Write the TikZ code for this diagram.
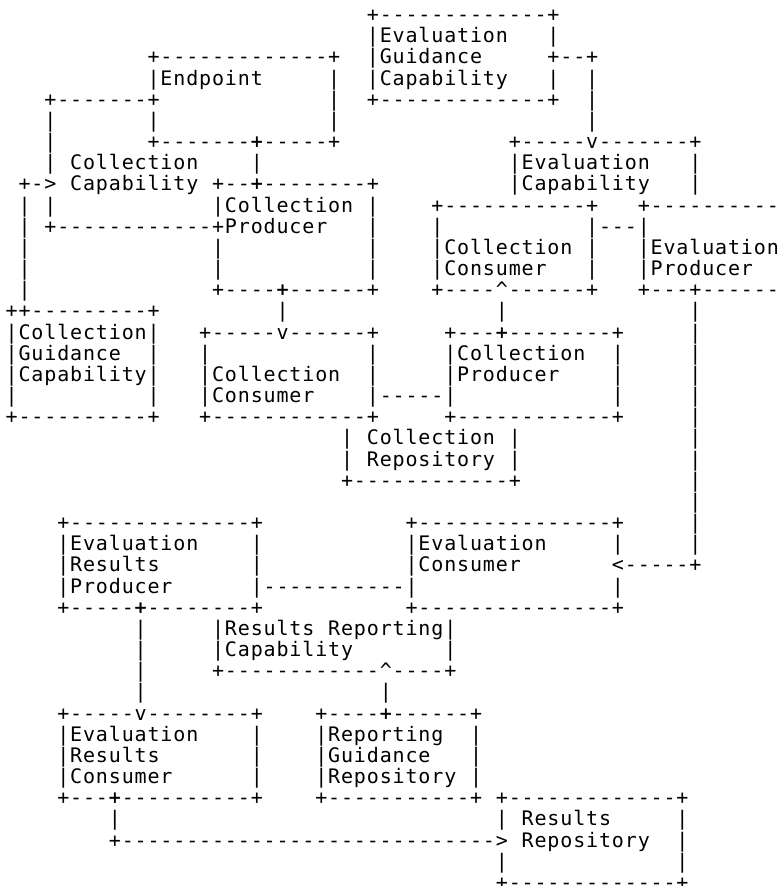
\documentclass[tikz,border=0pt]{standalone}
\usepackage{fontspec}
\newfontfamily\ascfont{DejaVu Sans Mono}
\newlength\cwl \setlength\cwl{12.9pt}
\newcount\dcnt
\def\cells#1{\cellsA#1\relax}
\def\cellsA#1{\ifx#1\relax\else\makebox[\cwl]{#1}\expandafter\cellsA\fi}
\def\dashcells#1{\dcnt=\numexpr#1\relax\loop\ifnum\dcnt>0 \makebox[\cwl]{-}\advance\dcnt by -1 \repeat}
\tikzset{asc/.style={inner sep=0pt,outer sep=0pt,anchor=base west,text=black,
  font=\ascfont\fontsize{20pt}{21pt}\selectfont}}
\newcommand\px[1]{{(5.25+12.9*(#1))*1pt}}
\newcommand\py[1]{{-(15+21.17*(#1)+6.5)*1pt}}
\newcommand\seg[3]{\node[asc] (r#1c#2) at (\px{#2},\py{#1}) {\cells{#3}};}
\newcommand\hb[3]{\node[asc] (h#1c#2) at (\px{#2},\py{#1}) {\makebox[\cwl]{+}\dashcells{#3-#2-1}\makebox[\cwl]{+}};}
\newcommand\dsh[3]{\node[asc] (d#1c#2) at (\px{#2},\py{#1}) {\dashcells{#3-#2+1}};}
\begin{document}
\begin{tikzpicture}
\useasboundingbox (0,0) rectangle (782pt,-886pt);
% L0
\hb{0}{28}{42}
% L1
\seg{1}{28}{|Evaluation~~~|}
% L2
\hb{2}{11}{25}
\seg{2}{28}{|Guidance~~~~~}
\hb{2}{42}{45}
% L3
\seg{3}{11}{|Endpoint~~~~~|}
\seg{3}{28}{|Capability~~~|~~|}
% L4
\hb{4}{3}{11}
\seg{4}{25}{|}
\hb{4}{28}{42}
\seg{4}{45}{|}
% L5
\seg{5}{3}{|} \seg{5}{11}{|} \seg{5}{25}{|} \seg{5}{45}{|}
% L6
\seg{6}{3}{|}
\hb{6}{11}{19} \hb{6}{19}{25}
\seg{6}{39}{+} \dsh{6}{40}{44} \seg{6}{45}{v} \dsh{6}{46}{52} \seg{6}{53}{+}
% L7
\seg{7}{3}{|~Collection~~~~|}
\seg{7}{39}{|Evaluation~~~|}
% L8
\seg{8}{1}{+->~Capability~}
\hb{8}{16}{19} \hb{8}{19}{28}
\seg{8}{39}{|Capability~~~|}
% L9
\seg{9}{1}{|~|}
\seg{9}{16}{|Collection~|}
\hb{9}{33}{45}
\seg{9}{49}{+} \dsh{9}{50}{59}
% L10
\seg{10}{1}{|}
\hb{10}{3}{16}
\seg{10}{17}{Producer~~~|}
\seg{10}{33}{|}
\seg{10}{45}{|---|}
% L11
\seg{11}{1}{|} \seg{11}{16}{|} \seg{11}{28}{|}
\seg{11}{33}{|Collection~|}
\seg{11}{49}{|Evaluation}
% L12
\seg{12}{1}{|} \seg{12}{16}{|} \seg{12}{28}{|}
\seg{12}{33}{|Consumer~~~|}
\seg{12}{49}{|Producer}
% L13
\seg{13}{1}{|}
\hb{13}{16}{21} \hb{13}{21}{28}
\seg{13}{33}{+} \dsh{13}{34}{37} \seg{13}{38}{\textasciicircum} \dsh{13}{39}{44} \seg{13}{45}{+}
\hb{13}{49}{53} \dsh{13}{54}{59}
% L14
\seg{14}{0}{+} \hb{14}{1}{11}
\seg{14}{21}{|} \seg{14}{38}{|} \seg{14}{53}{|}
% L15
\seg{15}{0}{|Collection|}
\seg{15}{15}{+} \dsh{15}{16}{20} \seg{15}{21}{v} \dsh{15}{22}{27} \seg{15}{28}{+}
\hb{15}{34}{38} \hb{15}{38}{47}
\seg{15}{53}{|}
% L16
\seg{16}{0}{|Guidance~~|}
\seg{16}{15}{|} \seg{16}{28}{|}
\seg{16}{34}{|Collection~~|}
\seg{16}{53}{|}
% L17
\seg{17}{0}{|Capability|}
\seg{17}{15}{|Collection~~|}
\seg{17}{34}{|Producer~~~~|}
\seg{17}{53}{|}
% L18
\seg{18}{0}{|} \seg{18}{11}{|}
\seg{18}{15}{|Consumer~~~~|-----|}
\seg{18}{47}{|} \seg{18}{53}{|}
% L19
\hb{19}{0}{11} \hb{19}{15}{28} \hb{19}{34}{47} \seg{19}{53}{|}
% L20
\seg{20}{26}{|~Collection~|} \seg{20}{53}{|}
% L21
\seg{21}{26}{|~Repository~|} \seg{21}{53}{|}
% L22
\hb{22}{26}{39} \seg{22}{53}{|}
% L23
\seg{23}{53}{|}
% L24
\hb{24}{4}{19} \hb{24}{31}{47} \seg{24}{53}{|}
% L25
\seg{25}{4}{|Evaluation~~~~|} \seg{25}{31}{|Evaluation~~~~~|} \seg{25}{53}{|}
% L26
\seg{26}{4}{|Results~~~~~~~|}
\seg{26}{31}{|Consumer}
\seg{26}{47}{<} \dsh{26}{48}{52} \seg{26}{53}{+}
% L27
\seg{27}{4}{|Producer~~~~~~|}
\dsh{27}{20}{30}
\seg{27}{31}{|} \seg{27}{47}{|}
% L28
\hb{28}{4}{10} \hb{28}{10}{19} \hb{28}{31}{47}
% L29
\seg{29}{10}{|} \seg{29}{16}{|Results~Reporting|}
% L30
\seg{30}{10}{|} \seg{30}{16}{|Capability~~~~~~~|}
% L31
\seg{31}{10}{|}
\seg{31}{16}{+} \dsh{31}{17}{28} \seg{31}{29}{\textasciicircum} \dsh{31}{30}{33} \seg{31}{34}{+}
% L32
\seg{32}{10}{|} \seg{32}{29}{|}
% L33
\seg{33}{4}{+} \dsh{33}{5}{9} \seg{33}{10}{v} \dsh{33}{11}{18} \seg{33}{19}{+}
\hb{33}{24}{29} \hb{33}{29}{36}
% L34
\seg{34}{4}{|Evaluation~~~~|} \seg{34}{24}{|Reporting~~|}
% L35
\seg{35}{4}{|Results~~~~~~~|} \seg{35}{24}{|Guidance~~~|}
% L36
\seg{36}{4}{|Consumer~~~~~~|} \seg{36}{24}{|Repository~|}
% L37
\hb{37}{4}{8} \hb{37}{8}{19} \hb{37}{24}{36} \hb{37}{38}{52}
% L38
\seg{38}{8}{|} \seg{38}{38}{|~Results} \seg{38}{52}{|}
% L39
\seg{39}{8}{+} \dsh{39}{9}{37} \seg{39}{38}{>} \seg{39}{40}{Repository} \seg{39}{52}{|}
% L40
\seg{40}{38}{|} \seg{40}{52}{|}
% L41
\hb{41}{38}{52}
\end{tikzpicture}
\end{document}
